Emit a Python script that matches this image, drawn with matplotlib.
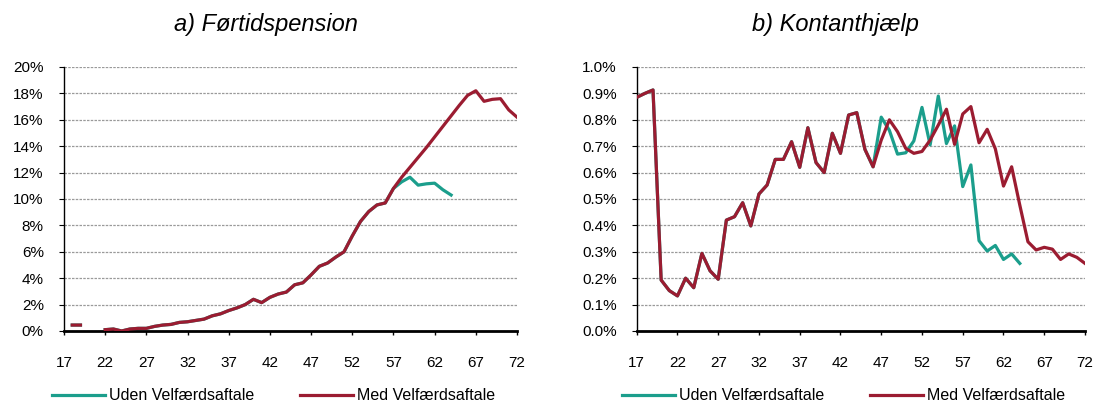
import numpy as np
import matplotlib
matplotlib.use('Agg')
import matplotlib.pyplot as plt

plt.rcParams['font.family'] = ['Liberation Sans', 'DejaVu Sans']

ages = np.arange(17, 73)

# a) Førtidspension, percent (NaN = no value)
fp_med = [np.nan, 0.45, 0.45, np.nan, np.nan, 0.1, 0.15, 0.0, 0.15, 0.2,
          0.2, 0.35, 0.45, 0.5, 0.65, 0.7, 0.8, 0.9, 1.15, 1.3,
          1.55, 1.75, 2.0, 2.4, 2.15, 2.55, 2.8, 2.95, 3.5, 3.65,
          4.25, 4.9, 5.15, 5.6, 6.0, 7.2, 8.3, 9.05, 9.55, 9.7,
          10.8, 11.65, 12.4, 13.15, 13.9, 14.7, 15.5, 16.3, 17.1, 17.85,
          18.2, 17.4, 17.55, 17.6, 16.75, 16.2]
fp_uden = fp_med[:41] + [11.3, 11.65, 11.05, 11.15, 11.2, 10.7, 10.3] + [np.nan] * 8

# b) Kontanthjælp, percent
kh_med = [0.885, 0.90, 0.913, 0.193, 0.153, 0.133, 0.20, 0.164, 0.294, 0.228,
          0.196, 0.42, 0.433, 0.486, 0.398, 0.519, 0.553, 0.65, 0.65, 0.717,
          0.62, 0.77, 0.638, 0.60, 0.749, 0.673, 0.818, 0.827, 0.688, 0.622,
          0.723, 0.80, 0.755, 0.692, 0.673, 0.68, 0.723, 0.78, 0.84, 0.707,
          0.822, 0.85, 0.713, 0.764, 0.69, 0.549, 0.622, 0.477, 0.338, 0.307,
          0.317, 0.31, 0.271, 0.292, 0.279, 0.256]
kh_uden = kh_med[:30] + [0.81, 0.76, 0.67, 0.675, 0.72, 0.847, 0.705, 0.89, 0.71, 0.777,
                         0.547, 0.629, 0.342, 0.303, 0.324, 0.271, 0.292, 0.256] + [np.nan] * 8

green = '#1b9e8c'
red = '#9b1c31'

fig = plt.figure(figsize=(10.93, 4.03), dpi=100)
W, H = 1093., 403.
ax1 = fig.add_axes([64 / W, 1 - 331 / H, 453 / W, 264 / H])
ax2 = fig.add_axes([636.7 / W, 1 - 331 / H, 448.3 / W, 264 / H])


def style(ax, yticks, fmt):
    ax.set_xlim(17, 72)
    ax.set_xticks(np.arange(17, 73, 5))
    ax.set_yticks(yticks)
    ax.set_ylim(yticks[0], yticks[-1])
    ax.set_yticklabels([fmt.format(v) for v in yticks])
    for s in ['top', 'right']:
        ax.spines[s].set_visible(False)
    ax.spines['bottom'].set_linewidth(2)
    ax.spines['left'].set_linewidth(1)
    ax.grid(axis='y', color='#9a9a9a', linestyle=(0, (2, 1)), linewidth=0.9)
    ax.set_axisbelow(True)
    ax.tick_params(axis='x', direction='out', length=3, width=1, pad=15, labelsize=11)
    ax.tick_params(axis='y', direction='out', length=3.5, width=0.8, pad=11, labelsize=11)


l1, = ax1.plot(ages, fp_uden, color=green, lw=2.3, zorder=2)
l2, = ax1.plot(ages, fp_med, color=red, lw=2.3, zorder=3)
style(ax1, np.arange(0, 21, 2), '{:.0f}%')

ax2.plot(ages, kh_uden, color=green, lw=2.3, zorder=2)
ax2.plot(ages, kh_med, color=red, lw=2.3, zorder=3)
style(ax2, np.round(np.arange(0, 1.01, 0.1), 1), '{:.1f}%')

fig.text(266 / W, 1 - 25 / H, 'a) Førtidspension', style='italic', fontsize=17,
         ha='center', va='center')
fig.text(835 / W, 1 - 25 / H, 'b) Kontanthjælp', style='italic', fontsize=17,
         ha='center', va='center')

labels = ['Uden Velfærdsaftale', 'Med Velfærdsaftale']
for x0 in [52, 622]:
    fig.legend([l1, l2], labels, loc='center left', ncol=2, frameon=False,
               bbox_to_anchor=(x0 / W, 1 - 396 / H), borderaxespad=0, borderpad=0,
               handlelength=3.3, handletextpad=0.25, columnspacing=2.9,
               fontsize=11.5)

fig.savefig('out.png', dpi=100)
